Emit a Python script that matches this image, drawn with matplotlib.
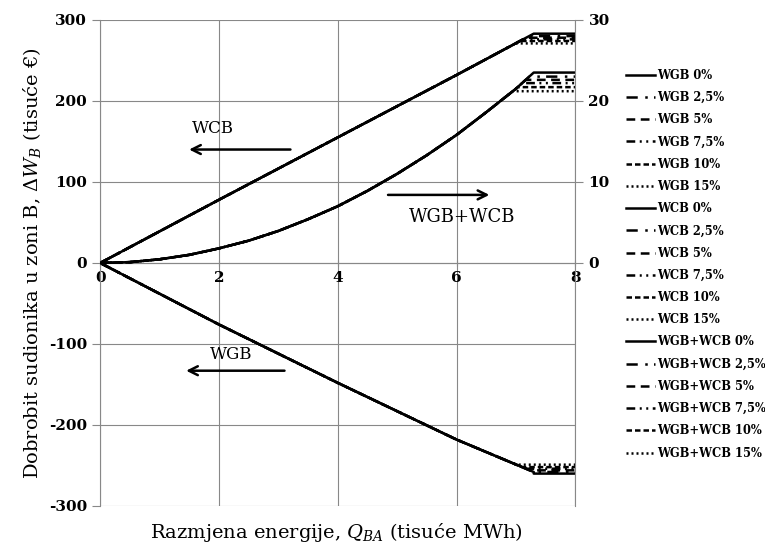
import matplotlib
matplotlib.use("Agg")
import matplotlib.pyplot as plt

plt.rcParams['font.family'] = ['DejaVu Serif']
plt.rcParams['mathtext.fontset'] = 'dejavuserif'
plt.rcParams['axes.unicode_minus'] = False

percent_labels = ["0%", "2,5%", "5%", "7,5%", "10%", "15%"]

# WGB (left axis, thousand EUR): common curve then flat levels
wgb_x = [0, 2, 4, 6, 7.3]
wgb_y = [0, -76, -148, -218, -258]
wgb_levels = [-260, -258, -256, -254, -252, -249]

# WCB (left axis)
wcb_x = [0, 2, 4, 6, 7.3]
wcb_y = [0, 78, 155, 232, 283]
wcb_levels = [283, 280, 278, 276, 274, 271]

# WGB+WCB (right axis)
sum_x = [0, 0.5, 1, 1.5, 2, 2.5, 3, 3.5, 4, 4.5, 5, 5.5, 6, 6.5, 7, 7.3]
sum_y = [0, 0.1, 0.45, 1.0, 1.8, 2.75, 3.95, 5.4, 7.0, 8.9, 11.0, 13.3, 15.8, 18.6, 21.5, 23.5]
sum_levels = [23.5, 23.0, 22.6, 22.2, 21.7, 21.2]

styles = ['-', (0, (4.5, 3, 1, 2.5)), (0, (3.5, 2.2)), (0, (3.5, 1.8, 0.8, 1.8, 0.8, 1.8)),
          (0, (2.2, 1.2)), (0, (0.8, 1.2))]

fig = plt.figure(figsize=(7.65, 5.53), dpi=100)
ax = fig.add_axes([0.131, 0.085, 0.621, 0.879])
ax2 = ax.twinx()

def seg(xs, ys, level):
    px, py = [], []
    for x, y in zip(xs, ys):
        if (level >= 0 and y < level) or (level < 0 and y > level):
            px.append(x); py.append(y)
        else:
            break
    x0, y0 = px[-1], py[-1]
    nxt = xs[len(px)] if len(px) < len(xs) else xs[-1]
    nyt = ys[len(px)] if len(px) < len(ys) else ys[-1]
    if nyt != y0:
        xb = x0 + (level - y0) * (nxt - x0) / (nyt - y0)
    else:
        xb = nxt
    px += [xb, 8]
    py += [level, level]
    return px, py

handles = []
for i, lv in enumerate(wgb_levels):
    px, py = seg(wgb_x, wgb_y, lv)
    h, = ax.plot(px, py, color='black', lw=1.8, ls=styles[i], label="WGB " + percent_labels[i])
    handles.append(h)
for i, lv in enumerate(wcb_levels):
    px, py = seg(wcb_x, wcb_y, lv)
    h, = ax.plot(px, py, color='black', lw=1.8, ls=styles[i], label="WCB " + percent_labels[i])
    handles.append(h)
for i, lv in enumerate(sum_levels):
    px, py = seg(sum_x, sum_y, lv)
    h, = ax2.plot(px, py, color='black', lw=1.8, ls=styles[i], label="WGB+WCB " + percent_labels[i])
    handles.append(h)

ax.set_xlim(0, 8)
ax.set_ylim(-300, 300)
ax2.set_ylim(-30, 30)
ax.set_xticks([0, 2, 4, 6, 8])
ax.set_yticks([-300, -200, -100, 0, 100, 200, 300])
ax2.set_yticks([0, 10, 20, 30])

ax.grid(True, color='#888888', lw=0.8)
ax.set_axisbelow(True)
for sp in ['top', 'bottom']:
    ax.spines[sp].set_visible(False)
    ax2.spines[sp].set_visible(False)
ax.spines['left'].set_color('#888888')
ax2.spines['right'].set_color('#888888')
ax2.spines['left'].set_visible(False)
ax.spines['right'].set_visible(False)
ax.spines['bottom'].set_visible(True)
ax.spines['bottom'].set_position(('data', 0))
ax.spines['bottom'].set_color('#888888')

ax.tick_params(axis='y', colors='#888888', labelcolor='black', labelsize=11, length=6)
ax.tick_params(axis='x', colors='#888888', labelcolor='black', labelsize=11, length=5, direction='inout')
ax2.tick_params(axis='y', colors='#888888', labelcolor='black', labelsize=11, length=6)
for t in ax.get_yticklabels() + ax.get_xticklabels() + ax2.get_yticklabels():
    t.set_fontweight('bold')

ax.set_ylabel(r"Dobrobit sudionika u zoni B, $\Delta W_B$ (tisuće €)", fontsize=14)
fig.text(0.44, 0.028, r"Razmjena energije, $Q_{BA}$ (tisuće MWh)", fontsize=14, ha='center')

arrowprops = dict(arrowstyle='->', color='black', lw=1.8, mutation_scale=16)
ax.annotate('', xy=(1.45, 140), xytext=(3.25, 140), arrowprops=arrowprops)
ax.text(1.55, 160, "WCB", fontsize=12)
ax.annotate('', xy=(6.6, 84), xytext=(4.8, 84), arrowprops=arrowprops)
ax.text(5.2, 50, "WGB+WCB", fontsize=13)
ax.annotate('', xy=(1.4, -133), xytext=(3.15, -133), arrowprops=arrowprops)
ax.text(1.85, -118, "WGB", fontsize=12)

fig.legend(handles=handles, loc='upper left', bbox_to_anchor=(0.812, 0.884),
           frameon=False, handlelength=2.5, handletextpad=0.25,
           labelspacing=0.80, borderaxespad=0, prop={'weight': 'bold', 'size': 8.3})

fig.savefig("out.png", dpi=100)
